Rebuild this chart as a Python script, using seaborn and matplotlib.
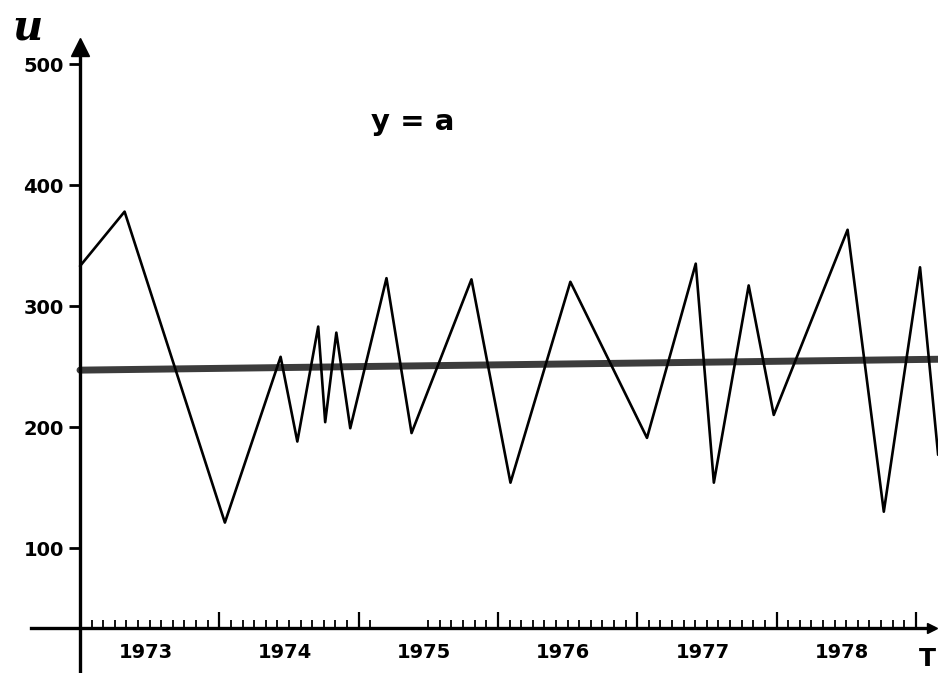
import numpy as np
import pandas as pd
import matplotlib
matplotlib.use("Agg")
import matplotlib.pyplot as plt
from matplotlib.ticker import FixedLocator, NullFormatter
import seaborn as sns

# Observed series (time in years, value)
obs_time = [1973.00, 1973.32, 1974.04, 1974.44, 1974.56, 1974.71, 1974.76,
            1974.84, 1974.94, 1975.20, 1975.38, 1975.81, 1976.09, 1976.52,
            1977.07, 1977.42, 1977.55, 1977.80, 1977.98, 1978.51, 1978.77,
            1979.03, 1979.16]
obs_value = [333, 378, 121, 258, 188, 283, 204, 278, 199, 323, 195, 322,
             154, 320, 191, 335, 154, 317, 210, 363, 130, 332, 177]

# Fitted level y = a
fit_time = [1973.00, 1979.16]
fit_value = [247, 256]

years = [1973, 1974, 1975, 1976, 1977, 1978]
year_labels = ["1973", "1974", "1975", "1976", "1977", "1978"]
y_ticks = [100, 200, 300, 400, 500]
missing_months = [(1975, 2), (1975, 3), (1975, 4), (1975, 5)]

sns.set_theme(style="white")
plt.rcParams["font.family"] = ["DejaVu Sans"]

fig = plt.figure(figsize=(9.38, 6.73), dpi=100)
ax = fig.add_axes([0, 0, 1, 1])
ax.set_xlim(1972.4257, 1979.159)
ax.set_ylim(-3.3, 552.9)
ax.set_facecolor("white")

obs = pd.DataFrame({"t": obs_time, "v": obs_value})
fit = pd.DataFrame({"t": fit_time, "v": fit_value})
sns.lineplot(data=fit, x="t", y="v", sort=False, color="#3c3c3c", lw=5.0, ax=ax)
sns.lineplot(data=obs, x="t", y="v", sort=False, color="black", lw=1.9, ax=ax)

# Axes drawn as crossing lines: vertical at 1973, horizontal at 34
for s in ["top", "right"]:
    ax.spines[s].set_visible(False)
ax.spines["left"].set_position(("data", 1973))
ax.spines["bottom"].set_position(("data", 34))
ax.spines["left"].set_bounds(-3.3, 512)
ax.spines["bottom"].set_bounds(1972.65, 1979.12)
for s in ["left", "bottom"]:
    ax.spines[s].set_linewidth(2.4)
    ax.spines[s].set_color("black")

ax.set_xlabel("")
ax.set_ylabel("")

ax.yaxis.set_major_locator(FixedLocator(y_ticks))
ax.set_yticklabels([str(v) for v in y_ticks])
ax.tick_params(axis="y", which="major", direction="out", length=8, width=2,
               pad=3.6, labelsize=14, colors="black", left=True)
for lab in ax.get_yticklabels():
    lab.set_fontweight("bold")

major_x = [y + 1 for y in years]
minor_x = [y + m / 12 for y in years for m in range(1, 12)
           if (y, m) not in missing_months]
ax.xaxis.set_major_locator(FixedLocator(major_x))
ax.xaxis.set_minor_locator(FixedLocator(minor_x))
ax.xaxis.set_major_formatter(NullFormatter())
ax.tick_params(axis="x", which="major", direction="in", length=11.5, width=1.6,
               colors="black", bottom=True)
ax.tick_params(axis="x", which="minor", direction="in", length=5.8, width=1.3,
               colors="black", bottom=True)

for y, lab in zip(years, year_labels):
    ax.text(y + 0.47, 14.0, lab, ha="center", va="center", fontsize=14,
            fontweight="bold", color="black")

# Arrow heads on the axes
ax.plot([1973], [514], marker="^", ms=13, color="black", clip_on=False)
ax.plot([1979.115], [34], marker=">", ms=7, color="black", clip_on=False)

fig.text(27 / 938, 1 - 27 / 673, "u", ha="center", va="center",
         fontsize=30, family="DejaVu Serif", style="italic",
         fontweight="bold", color="black")
fig.text(413 / 938, 1 - 122 / 673, "y = a", ha="center", va="center",
         fontsize=21, fontweight="bold", color="black")
fig.text(927 / 938, 1 - 659 / 673, "T", ha="center", va="center",
         fontsize=18, fontweight="bold", color="black")

fig.savefig("out.png", dpi=100, facecolor="white")
